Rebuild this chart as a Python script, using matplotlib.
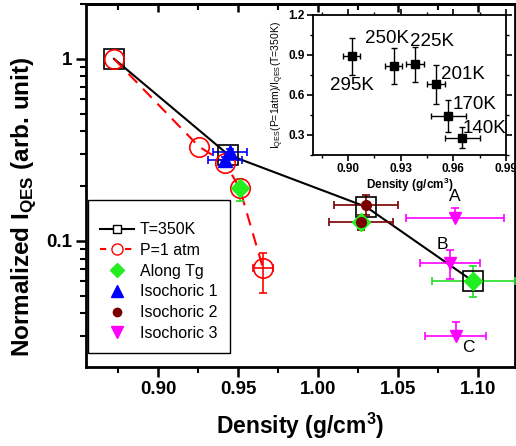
import matplotlib
matplotlib.use("Agg")
import matplotlib.pyplot as plt
from matplotlib.ticker import FixedLocator, NullFormatter, MultipleLocator, LogLocator
from matplotlib.lines import Line2D
import numpy as np

plt.rcParams['font.family'] = ['Liberation Sans', 'DejaVu Sans']
plt.rcParams['mathtext.fontset'] = 'custom'
plt.rcParams['mathtext.rm'] = 'Liberation Sans'
plt.rcParams['mathtext.bf'] = 'Liberation Sans:bold'

# ---- main data ----
t350_x = [0.8725, 0.944, 1.030, 1.097]
t350_y = [1.0, 0.297, 0.154, 0.060]

p1_x = [0.8725, 0.9257, 0.942, 0.951, 0.9656]
p1_y = [1.0, 0.329, 0.268, 0.195, 0.071]
p1_xerr = [0, 0, 0, 0, 0.006]
p1_yerr_lo = [0, 0, 0, 0, 0.019]
p1_yerr_hi = [0, 0, 0, 0, 0.015]

tg_x = [0.951, 1.027, 1.097]
tg_y = [0.195, 0.127, 0.060]
tg_xerr = [0.0, 0.0, 0.026]
tg_yerr_lo = [0.03, 0.01, 0.011]
tg_yerr_hi = [0.024, 0.01, 0.013]

iso1_x = [0.945, 0.942]
iso1_y = [0.308, 0.279]
iso1_xerr = [0.0105, 0.0105]
iso1_yerr = [0.01, 0.01]

iso2_x = [1.030, 1.027]
iso2_y = [0.158, 0.127]
iso2_xerr = [0.020, 0.020]
iso2_yerr = [0.02, 0.012]

iso3_x = [1.0856, 1.0825, 1.086]
iso3_y = [0.134, 0.0757, 0.030]
iso3_xerr = [0.0305, 0.0185, 0.019]
iso3_yerr_lo = [0.0, 0.014, 0.0]
iso3_yerr_hi = [0.018, 0.013, 0.006]
iso3_labels = ['A', 'B', 'C']

# ---- inset data ----
in_x = [0.902, 0.926, 0.938, 0.950, 0.957, 0.965]
in_y = [0.89, 0.82, 0.83, 0.68, 0.44, 0.28]
in_xerr = [0.005, 0.005, 0.005, 0.005, 0.010, 0.010]
in_yerr = [0.14, 0.135, 0.13, 0.145, 0.12, 0.08]
in_labels = ['295K', '250K', '225K', '201K', '170K', '140K']

fig = plt.figure(figsize=(5.16, 4.46), dpi=100)
ax = fig.add_axes([0.1667, 0.177, 0.831, 0.814])
ax.set_yscale('log')
ax.set_xlim(0.855, 1.123)
ax.set_ylim(0.0203, 2.0)


def err(axis, x, y, xe, ylo, yhi, color, z=3):
    x = np.asarray(x, float); y = np.asarray(y, float)
    xe = np.asarray(xe, float); ylo = np.asarray(ylo, float); yhi = np.asarray(yhi, float)
    kw = dict(capsize=3, elinewidth=1.2, capthick=1.2, linestyle='none', color=color, zorder=z)
    m = xe > 0
    if m.any():
        axis.errorbar(x[m], y[m], xerr=xe[m], **kw)
    m = (ylo > 0) | (yhi > 0)
    if m.any():
        axis.errorbar(x[m], y[m], yerr=[ylo[m], yhi[m]], **kw)


# lines
ax.plot(t350_x, t350_y, '-', color='black', lw=1.5, zorder=2)
ax.plot(p1_x, p1_y, '--', color='red', lw=1.5, dashes=(6, 4), zorder=2)

# error bars
err(ax, p1_x, p1_y, p1_xerr, p1_yerr_lo, p1_yerr_hi, 'red')
err(ax, tg_x, tg_y, tg_xerr, tg_yerr_lo, tg_yerr_hi, '#22dd22')
err(ax, iso1_x, iso1_y, iso1_xerr, iso1_yerr, iso1_yerr, 'blue')
err(ax, iso2_x, iso2_y, iso2_xerr, iso2_yerr, iso2_yerr, '#7a0000')
err(ax, iso3_x, iso3_y, iso3_xerr, iso3_yerr_lo, iso3_yerr_hi, 'magenta')

# markers
ax.plot(t350_x, t350_y, 's', ms=14, mfc='none', mec='black', mew=1.2, zorder=4)
ax.plot(p1_x, p1_y, 'o', ms=14, mfc='none', mec='red', mew=1.2, zorder=4)
ax.plot(tg_x, tg_y, 'D', ms=9, color='#22ee22', zorder=5)
ax.plot(iso1_x, iso1_y, '^', ms=10, color='blue', zorder=5)
ax.plot(iso2_x, iso2_y, 'o', ms=7, color='#7a0000', zorder=6)
ax.plot(iso3_x, iso3_y, 'v', ms=9, color='magenta', zorder=5)

# A B C labels
ax.text(iso3_x[0], iso3_y[0] * 1.31, iso3_labels[0], fontsize=12.5, ha='center', va='center')
ax.text(iso3_x[1] - 0.005, iso3_y[1] * 1.27, iso3_labels[1], fontsize=12.5, ha='center', va='center')
ax.text(iso3_x[2] + 0.008, iso3_y[2] * 0.87, iso3_labels[2], fontsize=12.5, ha='center', va='center')

# legend
handles = [
    Line2D([], [], color='black', lw=1.5, marker='s', ms=6, mfc='white', mec='black'),
    Line2D([], [], color='red', lw=1.5, ls='--', dashes=(3, 3), marker='o', ms=8, mfc='white', mec='red'),
    Line2D([], [], ls='none', marker='D', ms=7, color='#22ee22'),
    Line2D([], [], ls='none', marker='^', ms=8, color='blue'),
    Line2D([], [], ls='none', marker='o', ms=6, color='#7a0000'),
    Line2D([], [], ls='none', marker='v', ms=8, color='magenta'),
]
labels = ['T=350K', 'P=1 atm', 'Along Tg', 'Isochoric 1', 'Isochoric 2', 'Isochoric 3']
leg = ax.legend(handles, labels, loc='lower left', bbox_to_anchor=(0.005, 0.039), fontsize=11.5,
                frameon=True, fancybox=False, edgecolor='black', framealpha=1,
                handlelength=2.1, handletextpad=0.4, labelspacing=0.36, borderpad=0.75,
                borderaxespad=0.0, title=' ', title_fontsize=3)
leg.get_frame().set_linewidth(1.0)

# ticks
ax.set_xticks([0.90, 0.95, 1.00, 1.05, 1.10])
ax.set_xticklabels(['0.90', '0.95', '1.00', '1.05', '1.10'])
ax.xaxis.set_minor_locator(MultipleLocator(0.025))
ax.yaxis.set_major_locator(FixedLocator([0.1, 1.0]))
ax.yaxis.set_minor_locator(LogLocator(base=10, subs=np.arange(2, 10)))
ax.yaxis.set_minor_formatter(NullFormatter())
ax.set_yticklabels(['0.1', '1'])
ax.tick_params(axis='both', which='major', direction='out', length=7, width=1.8, labelsize=13.5, pad=3)
ax.tick_params(axis='both', which='minor', direction='out', length=4, width=1.5)
for lbl in ax.get_xticklabels() + ax.get_yticklabels():
    lbl.set_fontweight('bold')
for s in ax.spines.values():
    s.set_linewidth(2.0)

# top mirrored ticks pointing inward
sec = ax.secondary_xaxis('top')
sec.set_xticks([0.90, 0.95, 1.00, 1.05, 1.10])
sec.xaxis.set_minor_locator(MultipleLocator(0.025))
sec.tick_params(axis='x', which='major', direction='in', length=6, width=1.8, labeltop=False)
sec.tick_params(axis='x', which='minor', direction='in', length=4, width=1.5)
sec.spines['top'].set_linewidth(2.0)

ax.set_xlabel('Density (g/cm$^{\\mathbf{3}}$)', fontsize=16.5, fontweight='bold', labelpad=9)
ax.set_ylabel('Normalized I$_{\\mathbf{QES}}$ (arb. unit)', fontsize=17.5, fontweight='bold')
ax.yaxis.set_label_coords(-0.112, 0.44)

# ---- inset ----
axi = fig.add_axes([0.6066, 0.6525, 0.374, 0.314])
axi.set_xlim(0.88, 0.99)
axi.set_ylim(0.15, 1.2)
axi.errorbar(in_x, in_y, xerr=in_xerr, yerr=in_yerr, fmt='s', color='black', ms=6,
             capsize=2.5, elinewidth=1.0, capthick=1.0)
lab_dx = [0.0, -0.004, 0.010, 0.0155, 0.015, 0.013]
lab_dy = [-0.22, 0.20, 0.17, 0.077, 0.085, 0.07]
for x, y, t, dx, dy in zip(in_x, in_y, in_labels, lab_dx, lab_dy):
    axi.text(x + dx, y + dy, t, fontsize=13.5, ha='center', va='center')
axi.set_xticks([0.90, 0.93, 0.96, 0.99])
axi.set_xticklabels(['0.90', '0.93', '0.96', '0.99'])
axi.xaxis.set_minor_locator(MultipleLocator(0.015))
axi.set_yticks([0.3, 0.6, 0.9, 1.2])
axi.set_yticklabels(['0.3', '0.6', '0.9', '1.2'])
axi.yaxis.set_minor_locator(MultipleLocator(0.15))
axi.tick_params(axis='both', which='major', direction='out', length=4, width=1.2, labelsize=8.5, pad=2)
axi.tick_params(axis='both', which='minor', direction='out', length=2.5, width=1.0)
axi.tick_params(axis='x', which='both', top=True)
axi.tick_params(axis='y', which='both', right=True)
for lbl in axi.get_xticklabels() + axi.get_yticklabels():
    lbl.set_fontweight('bold')
for s in axi.spines.values():
    s.set_linewidth(1.3)
axi.set_xlabel('Density (g/cm$^{\\mathbf{3}}$)', fontsize=8.5, fontweight='bold', labelpad=0)
axi.set_ylabel('I$_{\\rm QES}$(P=1atm)/I$_{\\rm QES}$(T=350K)', fontsize=7.5, labelpad=2)

fig.savefig('out.png', dpi=100)
